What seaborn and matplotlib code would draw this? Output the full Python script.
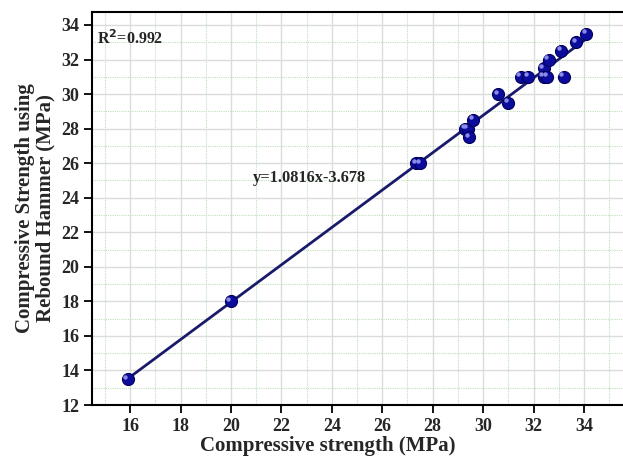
import numpy as np
import pandas as pd
import matplotlib
matplotlib.use("Agg")
import matplotlib.pyplot as plt
import matplotlib.transforms as mtransforms
from matplotlib.ticker import MultipleLocator
import seaborn as sns

# Data
compressive_strength = [15.9, 20.0, 27.35, 27.5, 29.3, 29.4, 29.45, 29.6, 30.6, 31.0,
                        31.5, 31.8, 32.4, 32.4, 32.55, 32.6, 33.1, 33.2, 33.7, 34.1]
rebound_strength = [13.5, 18.0, 26.0, 26.0, 28.0, 28.0, 27.5, 28.5, 30.0, 29.5,
                    31.0, 31.0, 31.5, 31.0, 31.0, 32.0, 32.5, 31.0, 33.0, 33.5]
slope = 1.0816
intercept = -3.678
r_squared = 0.992
x_ticks = [16, 18, 20, 22, 24, 26, 28, 30, 32, 34]
y_ticks = [12, 14, 16, 18, 20, 22, 24, 26, 28, 30, 32, 34]

df = pd.DataFrame({"x": compressive_strength, "y": rebound_strength})
x_line = np.array([min(compressive_strength), max(compressive_strength)])
line_df = pd.DataFrame({"x": x_line, "y": slope * x_line + intercept})

sns.set_style("white")
plt.rcParams["font.family"] = ["Liberation Serif", "DejaVu Serif"]
plt.rcParams["font.weight"] = "bold"

fig = plt.figure(figsize=(6.23, 4.59), dpi=100)
ax = fig.add_axes([0.147, 0.1176, 0.853, 0.8562])

ax.set_xlim(14.47, 35.55)
ax.set_ylim(12, 34.75)
ax.xaxis.set_major_locator(MultipleLocator(2))
ax.xaxis.set_minor_locator(MultipleLocator(1))
ax.yaxis.set_major_locator(MultipleLocator(2))
ax.yaxis.set_minor_locator(MultipleLocator(1))
ax.set_xticks(x_ticks)
ax.set_yticks(y_ticks)
ax.grid(which="major", color="#d9dcd9", linewidth=1.0, linestyle="-")
ax.grid(which="minor", color="#bfe0bf", linewidth=0.8, linestyle=(0, (1, 1)))
ax.set_axisbelow(True)

sns.lineplot(data=line_df, x="x", y="y", ax=ax, color="#1a1a6c", linewidth=2.0, zorder=3)
sns.scatterplot(data=df, x="x", y="y", ax=ax, s=75, color="#0c0c9c",
                edgecolor="#00005a", linewidth=0.8, zorder=4)
# specular highlight on the spheres
hl = mtransforms.offset_copy(ax.transData, fig=fig, x=-1.8, y=1.8, units="points")
ax.scatter(df["x"], df["y"], s=10, color="#8a8ae8", linewidth=0, transform=hl, zorder=5)

ax.set_xlabel("Compressive strength (MPa)", fontsize=15, fontweight="bold")
ax.xaxis.set_label_coords(0.445, -0.078)
ax.set_ylabel("Compressive Strength using\nRebound Hammer (MPa)", fontsize=15,
              fontweight="bold", linespacing=1.05, multialignment="center")
ax.yaxis.set_label_coords(-0.067, 0.50)

ax.tick_params(axis="both", which="major", direction="out", length=6, width=1.3,
               labelsize=13, color="black", pad=3,
               bottom=True, left=True, top=False, right=False)
ax.tick_params(axis="x", which="major", pad=3)
ax.tick_params(axis="both", which="minor", length=0)
for lbl in ax.get_xticklabels() + ax.get_yticklabels():
    lbl.set_fontweight("bold")

for side in ["left", "bottom", "top"]:
    ax.spines[side].set_visible(True)
    ax.spines[side].set_color("black")
    ax.spines[side].set_linewidth(1.5)
ax.spines["right"].set_visible(False)

ax.text(0.01, 0.931, f"R$^\\mathbf{{2}}$={r_squared}", transform=ax.transAxes,
        fontsize=11.5, fontweight="bold", va="center", ha="left")
ax.text(0.304, 0.578, f"y={slope}x{intercept}", transform=ax.transAxes,
        fontsize=11.8, fontweight="bold", va="center", ha="left")

fig.savefig("out.png", dpi=100)
